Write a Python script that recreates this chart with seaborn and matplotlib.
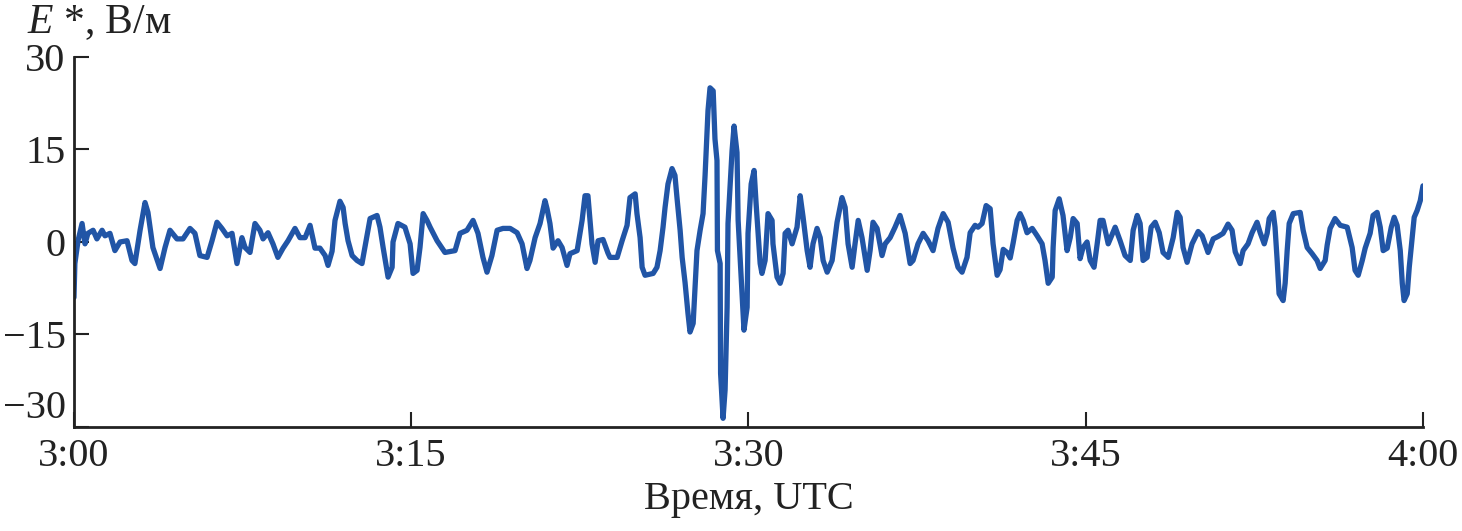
import matplotlib
matplotlib.use("Agg")
import matplotlib.pyplot as plt
import seaborn as sns

# Time since 3:00 UTC, minutes
minutes = [
    0.00, 0.04, 0.18, 0.36, 0.49, 0.62, 0.85, 1.02, 1.25, 1.38, 1.60, 1.82, 2.05, 2.36, 2.58, 2.71,
    2.94, 3.16, 3.29, 3.51, 3.83, 4.05, 4.27, 4.58, 4.85, 5.16, 5.38, 5.60, 5.92, 6.14, 6.36, 6.58,
    6.81, 7.03, 7.25, 7.47, 7.61, 7.83, 8.05, 8.27, 8.41, 8.63, 8.85, 9.07, 9.30, 9.52, 9.83, 10.05,
    10.28, 10.50, 10.72, 10.94, 11.17, 11.30, 11.48, 11.61, 11.83, 11.97, 12.06, 12.19, 12.37, 12.59,
    12.81, 12.94, 13.17, 13.48, 13.61, 13.75, 13.97, 14.15, 14.19, 14.41, 14.72, 14.95, 15.08, 15.26,
    15.39, 15.53, 15.70, 15.84, 16.15, 16.50, 16.95, 17.17, 17.48, 17.75, 17.97, 18.19, 18.37, 18.59,
    18.82, 19.08, 19.40, 19.71, 19.93, 20.15, 20.28, 20.51, 20.73, 20.95, 21.04, 21.17, 21.31, 21.53,
    21.71, 21.93, 22.06, 22.38, 22.60, 22.73, 22.86, 23.04, 23.18, 23.31, 23.53, 23.75, 23.84, 24.16,
    24.38, 24.60, 24.73, 24.96, 25.04, 25.18, 25.27, 25.40, 25.76, 25.93, 26.07, 26.20, 26.29, 26.42,
    26.60, 26.73, 26.82, 26.96, 27.05, 27.18, 27.31, 27.40, 27.54, 27.62, 27.71, 27.85, 27.98, 28.07,
    28.20, 28.29, 28.43, 28.51, 28.60, 28.62, 28.74, 28.76, 28.87, 28.96, 29.05, 29.09, 29.27, 29.36,
    29.49, 29.54, 29.72, 29.80, 29.94, 29.98, 30.12, 30.25, 30.34, 30.43, 30.52, 30.60, 30.74, 30.87,
    31.05, 31.09, 31.27, 31.41, 31.54, 31.63, 31.76, 31.94, 32.16, 32.30, 32.43, 32.61, 32.74, 32.87,
    33.05, 33.19, 33.32, 33.50, 33.72, 33.94, 34.16, 34.30, 34.43, 34.61, 34.74, 34.88, 35.05, 35.28,
    35.41, 35.54, 35.72, 35.94, 36.08, 36.30, 36.52, 36.74, 36.97, 37.19, 37.32, 37.54, 37.77, 37.99,
    38.21, 38.43, 38.66, 38.88, 39.10, 39.32, 39.50, 39.72, 39.86, 40.08, 40.21, 40.39, 40.57, 40.75,
    40.88, 41.06, 41.19, 41.33, 41.50, 41.64, 41.77, 41.95, 42.08, 42.22, 42.39, 42.62, 42.84, 43.06,
    43.19, 43.33, 43.51, 43.55, 43.64, 43.82, 43.99, 44.17, 44.31, 44.44, 44.62, 44.75, 44.88, 45.06,
    45.20, 45.37, 45.51, 45.64, 45.77, 46.00, 46.31, 46.53, 46.75, 46.98, 47.11, 47.29, 47.42, 47.55,
    47.73, 47.91, 48.09, 48.27, 48.44, 48.67, 48.89, 49.07, 49.20, 49.33, 49.51, 49.73, 50.00, 50.18,
    50.44, 50.67, 50.89, 51.11, 51.33, 51.51, 51.65, 51.87, 52.00, 52.22, 52.40, 52.62, 52.76, 52.94,
    53.07, 53.16, 53.34, 53.42, 53.51, 53.60, 53.78, 53.87, 53.96, 54.05, 54.23, 54.54, 54.67, 54.85,
    55.07, 55.29, 55.43, 55.65, 55.74, 55.87, 56.09, 56.32, 56.63, 56.85, 56.98, 57.12, 57.30, 57.43,
    57.65, 57.78, 57.96, 58.10, 58.23, 58.41, 58.59, 58.72, 58.85, 58.99, 59.08, 59.16, 59.30, 59.39,
    59.52, 59.61, 59.74, 59.88, 59.96, 60.00,
]

# Electric field E*, V/m
field = [
    -9.0, -3.5, 0.2, 3.0, -0.3, 1.4, 1.9, 0.5, 1.9, 1.0, 1.4, -1.4, 0.0, 0.2, -3.0, -3.5,
    1.9, 6.4, 4.8, -0.9, -4.3, -0.9, 1.9, 0.5, 0.5, 2.2, 1.4, -2.2, -2.5, 0.2, 3.2, 2.2,
    1.0, 1.4, -3.5, 0.7, -0.9, -1.7, 3.0, 1.9, 0.5, 1.5, -0.3, -2.5, -1.0, 0.2, 2.2, 0.7,
    0.7, 2.7, -1.0, -1.0, -2.2, -3.8, -1.5, 3.5, 6.6, 5.6, 3.0, 0.2, -2.2, -3.0,
    -3.5, -0.9, 3.8, 4.3, 2.4, -0.9, -5.7, -4.1, 0.0, 3.0, 2.4, -0.3, -5.1, -4.6,
    -0.9, 4.6, 3.5, 2.4, 0.2, -1.7, -1.4, 1.4, 1.9, 3.5, 1.4, -2.5, -4.9, -2.2,
    1.9, 2.2, 2.2, 1.5, -0.3, -4.3, -3.0, 0.7, 3.0, 6.7, 5.4, 3.0, -1.0, 0.2,
    -0.9, -3.8, -1.9, -1.4, 3.5, 7.5, 7.5, -0.3, -3.3, 0.2, 0.4, -1.8, -2.5, -2.5,
    0.2, 2.7, 7.2, 7.8, 4.6, 0.7, -4.1, -5.4, -5.1, -4.1, -1.4, 2.4, 5.6, 9.4,
    11.9, 10.8, 7.2, 1.9, -2.5, -6.6, -11.6, -14.6, -13.2, -7.8, -1.4, 1.9, 4.6, 10.8,
    21.3, 25.0, 24.5, 16.7, 13.2, -1.4, -3.5, -21.3, -28.6, -24.0, -10.6, 3.0, 14.8, 18.8,
    14.5, 3.5, -9.0, -14.3, -10.6, 1.4, 9.4, 11.6, 6.2, 1.4, -3.5, -5.1, -3.0, 4.6,
    3.5, -0.3, -5.7, -6.7, -5.1, 1.4, 1.9, -0.3, 2.4, 7.5, 4.0, -1.4, -4.1, -0.3,
    2.2, 0.7, -3.0, -4.9, -3.0, 3.2, 7.2, 5.6, -0.3, -4.1, -0.3, 3.5, 0.7, -4.6,
    -1.4, 3.2, 2.2, -2.2, -0.3, 0.7, 2.4, 4.3, 1.4, -3.5, -3.0, -0.3, 1.4, 0.2,
    -1.4, 2.2, 4.6, 3.2, -1.0, -4.1, -4.9, -2.5, 1.5, 2.7, 2.4, 3.0, 5.9, 5.4,
    -0.3, -5.4, -4.5, -1.2, -1.7, -2.6, -0.2, 3.5, 4.6, 3.5, 1.5, 2.2, 1.0, -0.3,
    -3.0, -6.7, -5.7, -0.9, 5.1, 7.0, 4.3, -1.4, 0.7, 3.8, 3.0, -2.7, -0.9, 0.0,
    -3.0, -4.1, -0.3, 3.5, 3.5, -0.3, 2.4, 0.2, -2.2, -3.0, 1.9, 4.3, 3.0, -3.0,
    -2.5, 2.4, 3.2, 1.5, -1.7, -2.5, 0.7, 4.8, 4.0, -0.9, -3.3, -0.3, 1.7, 1.0,
    -1.7, 0.5, 0.9, 1.4, 2.9, 1.9, -1.6, -3.5, -1.4, -0.3, 1.5, 3.2, 1.5, -0.3,
    1.4, 3.8, 4.8, 2.4, -2.7, -8.4, -9.5, -6.7, -1.4, 3.0, 4.6, 4.8, 1.9, -0.9,
    -1.9, -3.0, -4.3, -3.0, -0.5, 2.2, 3.8, 2.7, 2.4, -0.9, -4.6, -5.4, -3.0, -1.0,
    1.4, 4.3, 4.8, 2.4, -1.4, -1.0, 2.4, 4.0, 2.7, -1.4, -6.7, -9.5, -8.4, -4.1,
    0.7, 4.0, 5.1, 6.7, 8.3, 9.1,
]

x_ticks = [0, 15, 30, 45, 60]
x_tick_labels = ["3:00", "3:15", "3:30", "3:45", "4:00"]
y_ticks = [-30, -15, 0, 15, 30]

sns.set_style("ticks")
plt.rcParams["font.family"] = ["Liberation Serif", "DejaVu Serif"]
plt.rcParams["mathtext.fontset"] = "custom"
plt.rcParams["mathtext.it"] = "Liberation Serif:italic"
plt.rcParams["mathtext.rm"] = "Liberation Serif"

fig = plt.figure(figsize=(14.62, 5.31), dpi=100)
ax = fig.add_axes([0.0506, 0.1959, 0.9227, 0.6968])

sns.lineplot(x=minutes, y=field, ax=ax, sort=False, estimator=None,
             color="#2155a6", linewidth=3.8)

ax.set_xlim(0, 60)
ax.set_ylim(-30, 30)
ax.set_xticks(x_ticks)
ax.set_xticklabels(x_tick_labels)
ax.set_yticks(y_ticks)
ax.tick_params(direction="in", length=11, width=1.5, labelsize=29, colors="#222222")
ax.tick_params(axis="y", pad=6)
ax.tick_params(axis="x", pad=8)
sns.despine(ax=ax)
for side in ["left", "bottom"]:
    ax.spines[side].set_linewidth(2)
    ax.spines[side].set_color("#222222")

# lift the lowest y label so it clears "3:00"
ax.yaxis.get_major_ticks()[0].label1.set_verticalalignment("bottom")

ax.set_xlabel("Время, UTC", fontsize=29, color="#222222", labelpad=4)
ax.set_ylabel("")
fig.text(27 / 1462, 1 - 33 / 531, "$E$ *, В/м", fontsize=30, color="#222222",
         ha="left", va="baseline")

fig.savefig("out.png", dpi=100)
